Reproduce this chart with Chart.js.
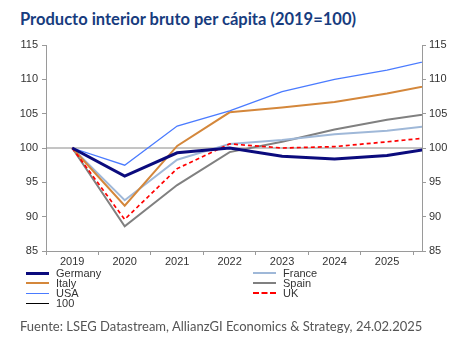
<!DOCTYPE html>
<html><head><meta charset="utf-8">
<script src="https://cdn.jsdelivr.net/npm/chart.js@4.4.1/dist/chart.umd.min.js"></script>
<style>
html,body{margin:0;padding:0;background:#fff;width:453px;height:356px;overflow:hidden;}
#title{position:absolute;left:20px;top:9px;font:bold 16.5px Lato,sans-serif;color:#173c7e;white-space:nowrap;}
#wrap{position:absolute;left:0;top:0;width:453px;height:270px;}
#legend{position:absolute;left:0;top:265px;width:453px;height:50px;font:11px "Liberation Sans",Arial,sans-serif;color:#333;}
.li{position:absolute;height:10px;line-height:10px;white-space:nowrap;}
.sw{position:absolute;left:0;top:5px;width:23px;height:0;}
.lt{position:absolute;left:30px;top:0;}
#foot{position:absolute;left:20px;top:318px;font:13px Lato,sans-serif;color:#555;white-space:nowrap;}
</style></head>
<body>
<div id="title">Producto interior bruto per cápita (2019=100)</div>
<div id="wrap"><canvas id="c" width="453" height="270"></canvas></div>
<div id="legend"></div>
<div id="foot">Fuente: LSEG Datastream, AllianzGI Economics &amp; Strategy, 24.02.2025</div>
<script>
// Data
const years = [2019, 2020, 2021, 2022, 2023, 2024, 2025, 2026];
const germany = [100, 95.9, 99.3, 100.0, 98.8, 98.4, 98.9, 100.1];
const france  = [100, 92.4, 98.3, 100.6, 101.15, 102.0, 102.5, 103.4];
const italy   = [100, 91.6, 100.3, 105.2, 105.9, 106.7, 107.95, 109.4];
const spain   = [100, 88.6, 94.6, 99.4, 100.9, 102.7, 104.1, 105.2];
const usa     = [100, 97.5, 103.2, 105.4, 108.2, 110.0, 111.35, 113.1];
const uk      = [100, 89.6, 97.0, 100.6, 100.0, 100.2, 100.9, 101.65];
const refYears = [2018, 2027];
const refValues = [100, 100];
const yTicks = [85, 90, 95, 100, 105, 110, 115];
const tickLabels = ['2019', '2020', '2021', '2022', '2023', '2024', '2025'];

const pts = (xs, ys) => xs.map((x, i) => ({x: x, y: ys[i]}));

const series = [
  {label:'Germany', data:pts(years, germany), color:'#0b0b7d', width:3, dash:[], order:1},
  {label:'France',  data:pts(years, france),  color:'#9fb8d8', width:2, dash:[], order:5},
  {label:'Italy',   data:pts(years, italy),   color:'#d4873b', width:2, dash:[], order:4},
  {label:'Spain',   data:pts(years, spain),   color:'#808080', width:2, dash:[], order:6},
  {label:'USA',     data:pts(years, usa),     color:'#4a7bff', width:1.3, dash:[], order:3},
  {label:'UK',      data:pts(years, uk),      color:'#ff0000', width:1.7, dash:[4,3], order:2},
  {label:'100',     data:pts(refYears, refValues), color:'#8a8a8a', width:1, dash:[], order:7, legendColor:'#000'}
];

const xMin = 2018.5, xMax = 2025.667;
const font = {family:'"Liberation Sans", Arial, sans-serif', size:11};

const cfg = {
  type:'line',
  data:{datasets: series.map(s => ({
    label:s.label, data:s.data, borderColor:s.color, backgroundColor:s.color,
    borderWidth:s.width, borderDash:s.dash, pointRadius:0, tension:0, order:s.order,
    fill:false, yAxisID:'y'
  }))},
  options:{
    responsive:false, animation:false,
    layout:{padding:{top:45,left:0,right:0,bottom:0}},
    plugins:{legend:{display:false}, tooltip:{enabled:false}},
    scales:{
      x:{type:'linear', min:xMin, max:xMax,
        afterBuildTicks:(s)=>{
          const t=[];
          tickLabels.forEach(l=>{const v=+l; t.push({value:v-0.5}); t.push({value:v});});
          t.push({value:+tickLabels[tickLabels.length-1]+0.5});
          s.ticks=t;
        },
        afterFit:(s)=>{s.height=19;},
        grid:{display:true, drawOnChartArea:false, drawTicks:true, tickLength:4,
          color:(c)=> (c.tick && c.tick.value%1!==0) ? '#9a9a9a' : 'rgba(0,0,0,0)'},
        border:{display:true, color:'#9a9a9a', width:1},
        ticks:{autoSkip:false, maxRotation:0, minRotation:0, padding:0, color:'#333', font:font,
          callback:(v)=> (v%1===0) ? String(v) : ''}
      },
      y:{position:'left', min:85, max:115,
        afterBuildTicks:(s)=>{s.ticks=yTicks.map(v=>({value:v}));},
        afterFit:(s)=>{s.width=46;},
        grid:{display:true, drawOnChartArea:false, tickLength:4, color:'#9a9a9a'},
        border:{display:true, color:'#9a9a9a', width:1},
        ticks:{padding:4, color:'#333', font:font}
      },
      y2:{position:'right', min:85, max:115,
        afterBuildTicks:(s)=>{s.ticks=yTicks.map(v=>({value:v}));},
        afterFit:(s)=>{s.width=31;},
        grid:{display:true, drawOnChartArea:false, tickLength:4, color:'#9a9a9a'},
        border:{display:true, color:'#9a9a9a', width:1},
        ticks:{padding:3, color:'#333', font:font}
      }
    }
  }
};
new Chart(document.getElementById('c'), cfg);

// HTML legend in two columns
const legendPos = {
  'Germany':[26,3], 'Italy':[26,13], 'USA':[26,23], '100':[26,33],
  'France':[253,3], 'Spain':[253,13], 'UK':[253,23]
};
const lg = document.getElementById('legend');
series.forEach(s=>{
  const p = legendPos[s.label];
  const d = document.createElement('div');
  d.className='li'; d.style.left=p[0]+'px'; d.style.top=p[1]+'px';
  const sw = document.createElement('div'); sw.className='sw';
  const col = s.legendColor || s.color;
  sw.style.borderTop = Math.max(1,Math.round(s.width)) + 'px ' + (s.dash.length?'dashed ':'solid ') + col;
  sw.style.top = (5 - Math.floor(Math.max(1,Math.round(s.width))/2))+'px';
  const t = document.createElement('div'); t.className='lt'; t.textContent=s.label;
  d.appendChild(sw); d.appendChild(t); lg.appendChild(d);
});
</script>
</body></html>
